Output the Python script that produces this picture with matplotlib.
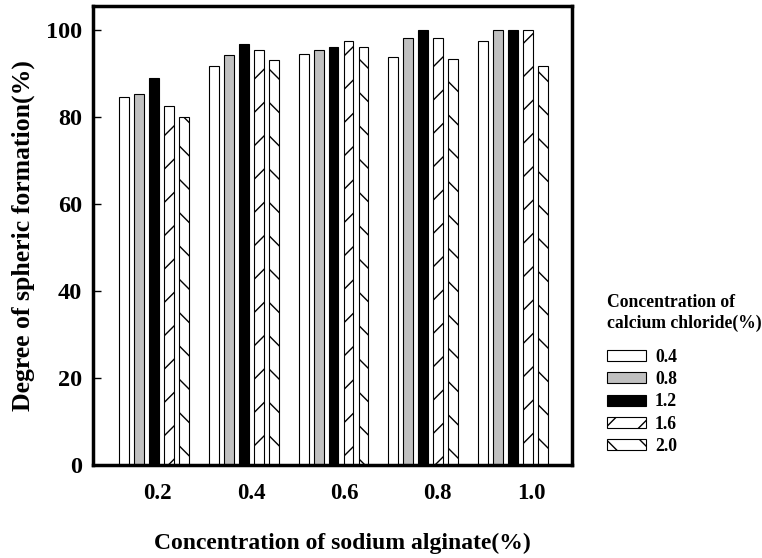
import numpy as np
import matplotlib.pyplot as plt

plt.rcParams['font.family'] = ['Liberation Serif', 'DejaVu Serif']
plt.rcParams['font.weight'] = 'bold'
plt.rcParams['hatch.linewidth'] = 1.0

alginate = ['0.2', '0.4', '0.6', '0.8', '1.0']
chloride = ['0.4', '0.8', '1.2', '1.6', '2.0']
values = [
    [84.7, 91.7, 94.6, 93.9, 97.4],   # 0.4
    [85.2, 94.3, 95.5, 98.1, 100.0],  # 0.8
    [89.0, 96.8, 96.2, 100.0, 100.0], # 1.2
    [82.6, 95.5, 97.4, 98.1, 100.0],  # 1.6
    [80.1, 93.1, 96.2, 93.4, 91.8],   # 2.0
]
colors = ['white', '#c0c0c0', 'black', 'white', 'white']
hatches = ['', '', '', '/', '\\']

fig = plt.figure(figsize=(7.62, 5.58), dpi=100)
ax = fig.add_axes([0.122, 0.167, 0.629, 0.822])

x = np.arange(len(alginate))
w = 0.111
step = 0.167
for i in range(len(chloride)):
    ax.bar(x + (i - 2) * step, values[i], width=w, color=colors[i],
           edgecolor='black', linewidth=0.8, hatch=hatches[i], label=chloride[i])

ax.set_xlim(-0.68, 4.66)
ax.set_ylim(0, 105.5)
ax.set_yticks([0, 20, 40, 60, 80, 100])
ax.set_xticks(x * 1.04 + 0.04)
ax.set_xticklabels(alginate)
ax.tick_params(axis='y', direction='in', length=6, width=1, labelsize=17.5, pad=8)
ax.tick_params(axis='x', length=0, labelsize=16.5, pad=13)
for s in ax.spines.values():
    s.set_linewidth(2.5)

ax.set_xlabel('Concentration of sodium alginate(%)', fontsize=17, fontweight='bold')
ax.xaxis.set_label_coords(0.521, -0.148)
ax.set_ylabel('Degree of spheric formation(%)', fontsize=18.5, fontweight='bold')
ax.yaxis.set_label_coords(-0.121, 0.5)

fig.text(0.797, 0.405, 'Concentration of\ncalcium chloride(%)', fontsize=12.7,
         fontweight='bold', ha='left', va='bottom', linespacing=1.25)
fig.legend(loc='upper left', bbox_to_anchor=(0.797, 0.375), frameon=False,
           fontsize=12.7, handlelength=2.2, handleheight=0.6, labelspacing=0.3,
           handletextpad=0.5, borderaxespad=0, borderpad=0)

fig.savefig('out.png', dpi=100)
